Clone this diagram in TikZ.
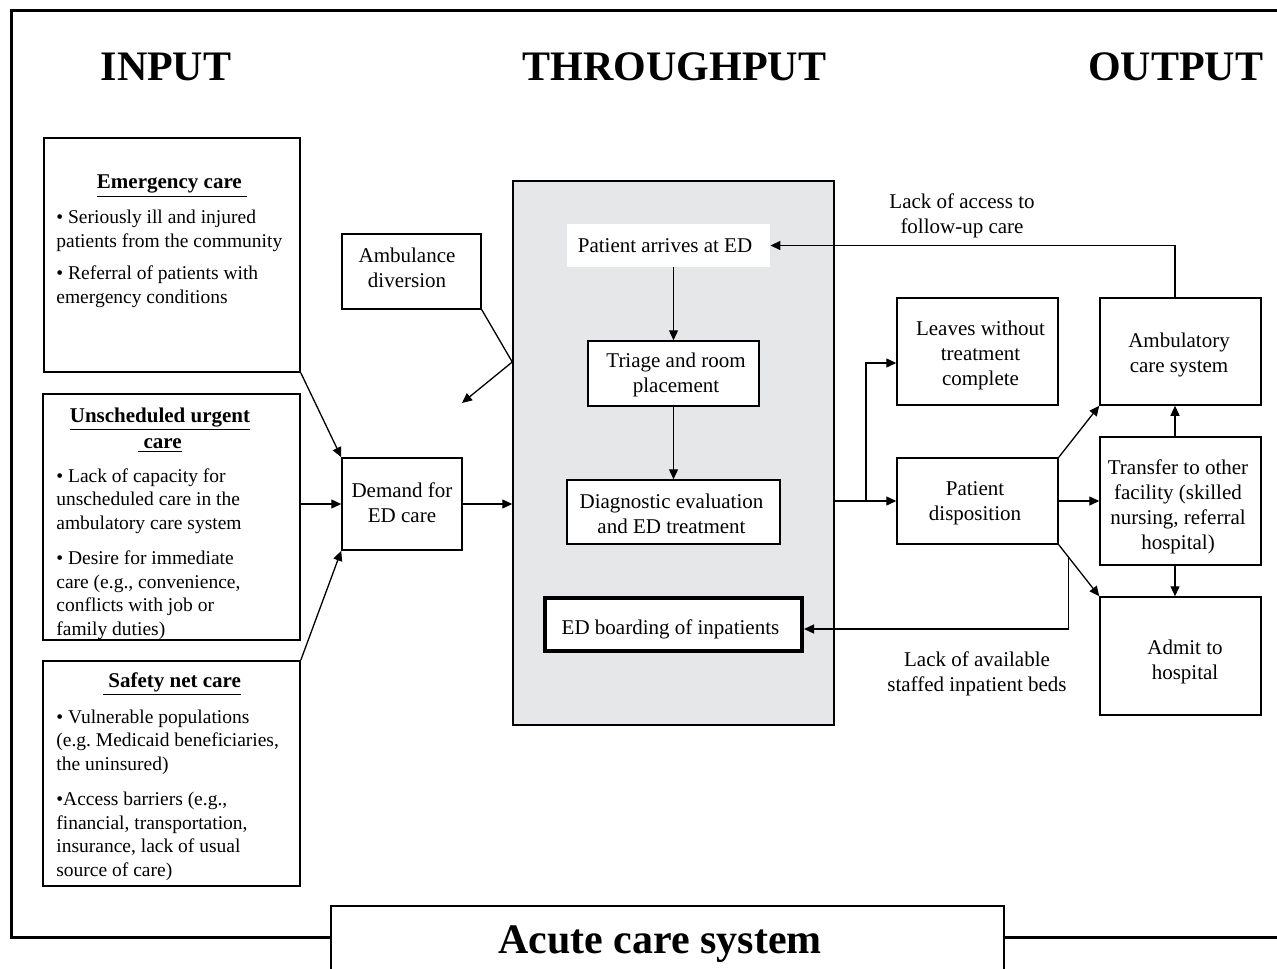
\documentclass[tikz,border=0pt]{standalone}
\usepackage{fontspec}
\setmainfont{Liberation Serif}
\usetikzlibrary{arrows.meta,fit,calc}
\definecolor{edgrey}{RGB}{230,231,232}
\frenchspacing
\begin{document}
\begin{tikzpicture}[x=0.5pt,y=-0.5pt,
  box/.style={draw=black, line width=0.75pt, inner sep=0pt, fill=white},
  txt/.style={font=\fontsize{10.5}{12.5}\selectfont, align=center, inner sep=0pt},
  btxt/.style={font=\fontsize{9.75}{11.75}\selectfont, align=left, inner sep=0pt, anchor=base west},
  head/.style={font=\fontsize{10.5}{13}\selectfont\bfseries, align=center, inner sep=0pt, anchor=base},
  big/.style={font=\fontsize{21}{25}\selectfont\bfseries, inner sep=0pt, anchor=base},
  arr/.style={-{Triangle[length=5pt,width=4.5pt]}, line width=0.65pt}]
\useasboundingbox (0,0) rectangle (1277,968);
% outer frame
\draw[line width=1.5pt] (1290,11) -- (11.5,11) -- (11.5,937) -- (1290,937);
% column headings
\node[big] (hin) at (166,81) {INPUT};
\node[big] (hthr) at (674.5,81) {THROUGHPUT};
\node[big] (hout) at (1175.5,81) {OUTPUT};
% input boxes (base anchor = baseline of last line)
\node[box, fit={(44,138) (300,372)}] (emerg) {};
\node[head] (emergH) at (172,189) {\underline{Emergency care\ }};
\node[btxt] (emergA) at (56,247) {• Seriously ill and injured\\patients from the community};
\node[btxt] (emergB) at (56,303) {• Referral of patients with\\emergency conditions};

\node[box, fit={(43,394) (300,640)}] (unsch) {};
\node[head] (unschH) at (160,448) {\underline{Unscheduled urgent}\\\underline{\ care}};
\node[btxt] (unschA) at (56,529) {• Lack of capacity for\\unscheduled care in the\\ambulatory care system};
\node[btxt] (unschB) at (56,635) {• Desire for immediate\\care (e.g., convenience,\\conflicts with job or\\family duties)};

\node[box, fit={(43,661) (300,886)}] (safety) {};
\node[head] (safetyH) at (172,687) {\underline{\ Safety net care}};
\node[btxt] (safetyA) at (56,770) {• Vulnerable populations\\(e.g.\ Medicaid beneficiaries,\\the uninsured)};
\node[btxt] (safetyB) at (56,876) {•Access barriers (e.g.,\\financial, transportation,\\insurance, lack of usual\\source of care)};

\node[box, fit={(342,234) (481,309)}] (ambdiv) {};
\node[txt] (ambdivT) at (407,268) {Ambulance\\diversion};
\node[box, fit={(342,458) (462,550)}] (demand) {};
\node[txt] (demandT) at (402,503) {Demand for\\ED care};

% throughput
\node[box, fill=edgrey, fit={(513,181) (834,725)}] (ed) {};
\node[fill=white, inner sep=0pt, fit={(567,224) (770,267)}] (arrive) {};
\node[txt] (arriveT) at (665,245.5) {Patient arrives at ED};
\node[box, fit={(588,341) (759,406)}] (triage) {};
\node[txt] (triageT) at (676,374.5) {Triage and room\\placement};
\node[box, fit={(567,480) (780,544)}] (diag) {};
\node[txt] (diagT) at (671.5,513.5) {Diagnostic evaluation\\and ED treatment};
\node[box, line width=2pt, fit={(545,598) (802,651)}] (board) {};
\node[txt] (boardT) at (670.5,629) {ED boarding of inpatients};

% output
\node[box, fit={(897,298) (1058,405)}] (leaves) {};
\node[txt] (leavesT) at (980.5,355) {Leaves without\\treatment\\complete};
\node[box, fit={(897,458) (1058,544)}] (dispo) {};
\node[txt] (dispoT) at (975,503) {Patient\\disposition};
\node[box, fit={(1100,298) (1261,405)}] (amb) {};
\node[txt] (ambT) at (1179,354.5) {Ambulatory\\care system};
\node[box, fit={(1100,437) (1261,565)}] (trans) {};
\node[txt] (transT) at (1178,506.5) {Transfer to other\\facility (skilled\\nursing, referral\\hospital)};
\node[box, fit={(1100,597) (1261,715)}] (admit) {};
\node[txt] (admitT) at (1185,662) {Admit to\\hospital};

\node[txt] (lblA) at (962,216) {Lack of access to\\follow-up care};
\node[txt] (lblB) at (977,674) {Lack of available\\staffed inpatient beds};

% bottom title box
\node[draw, fill=white, line width=1.3pt, inner sep=0pt, fit={(331,906) (1004,990)}] (acute) {};
\node[big] (acuteT) at (660,953) {Acute care system};

% connectors
\coordinate (cx) at (1175,0);
\coordinate (ambk) at (513,362);
\coordinate (ambtip) at (462,403);
\coordinate (br) at (866,501);
\coordinate (brl) at (866,363);
\coordinate (bb) at ($(dispo.south east)!0.238!(admit.north west)$);
\coordinate (bbl) at (0,629);

\draw[arr] (emerg.south east) -- (demand.north west);
\draw[arr] (unsch.east |- demand.west) -- (demand.west);
\draw[arr] (safety.north east) -- (demand.south west);
\draw[arr] (ambdiv.south east) -- (ed.west |- ambk) -- (ambtip);
\draw[arr] (demand.east) -- (ed.west |- demand.east);
\draw[arr] (arrive.south -| triage.north) -- (triage.north);
\draw[arr] (triage.south -| diag.north) -- (diag.north);
\draw[arr] (ed.east |- dispo.west) -- (dispo.west);
\draw[arr] (br) -- (brl) -- (leaves.west |- brl);
\draw[arr] (dispo.north east) -- (amb.south west);
\draw[arr] (dispo.east) -- (trans.west |- dispo.east);
\draw[arr] (dispo.south east) -- (admit.north west);
\draw[arr] (trans.north -| cx) -- (amb.south -| cx);
\draw[arr] (trans.south -| cx) -- (admit.north -| cx);
\draw[arr] (amb.north -| cx) |- (arrive.east);
\draw[arr] (bb) |- (board.east |- bbl);
\end{tikzpicture}
\end{document}
